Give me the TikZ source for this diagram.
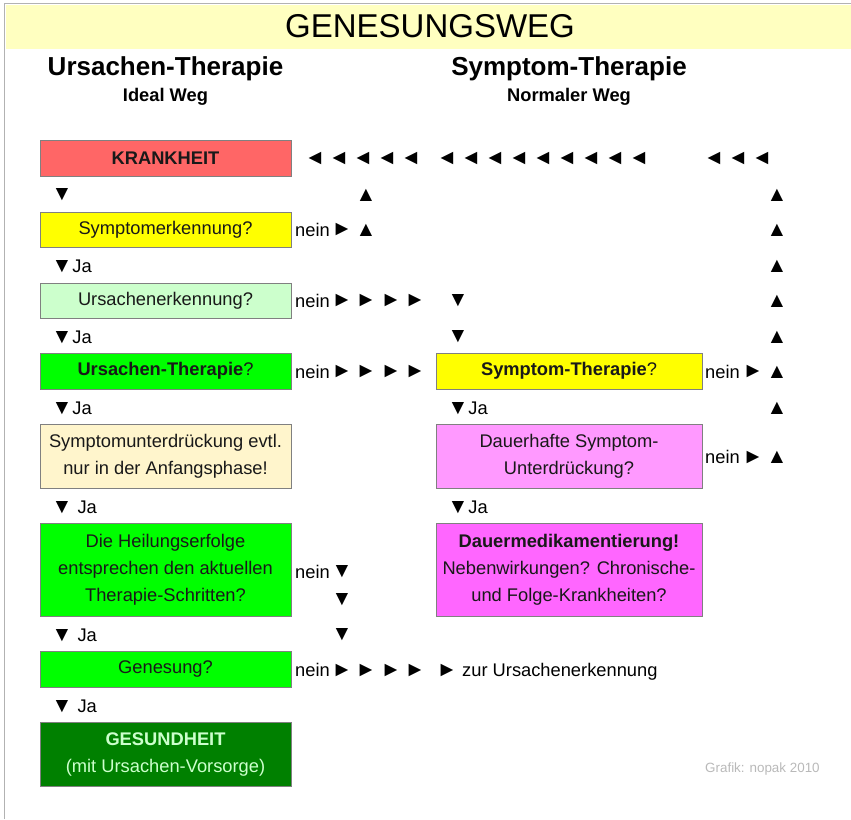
\documentclass[tikz,border=0pt]{standalone}
\usepackage{fontspec}
\setmainfont{Liberation Sans}

\definecolor{titleyellow}{HTML}{FFFFC0}
\definecolor{krankred}{HTML}{FF6666}
\definecolor{signyellow}{HTML}{FFFF00}
\definecolor{palegreen}{HTML}{CCFFCC}
\definecolor{brightgreen}{HTML}{00FF00}
\definecolor{cream}{HTML}{FFF5CC}
\definecolor{lightmagenta}{HTML}{FF99FF}
\definecolor{magenta}{HTML}{FF66FF}
\definecolor{darkgreen}{HTML}{008000}

\newcommand{\trisize}{\fontsize{21}{21}\selectfont}
\newcommand{\arrDn}{▼}
\newcommand{\arrUp}{▲}
\newcommand{\arrRt}{►}
\newcommand{\arrLt}{◄}

\begin{document}
\begin{tikzpicture}[x=1pt,y=-1pt,
  box/.style={draw=gray,line width=1pt,inner sep=0pt,minimum width=251,
      minimum height=35,align=center,text=black!90,
      font=\fontsize{18.3}{27}\selectfont},
  wbox/.style={box,minimum width=266},
  lbl/.style={inner sep=0pt,anchor=west,text height=13,text depth=0,
      font=\fontsize{18.3}{22}\selectfont},
  tri/.style={inner sep=0pt,font=\trisize}]

  \useasboundingbox (0,0) rectangle (851,819);

  % frame and title band
  \fill[titleyellow] (5.5,4.5) rectangle (851,49);
  \draw[gray!60,line width=1.5] (4.5,819) -- (4.5,3.5) -- (851,3.5);
  \node[font=\fontsize{33}{36}\selectfont] (title) at (430,26) {GENESUNGSWEG};

  % column heads
  \node[font=\bfseries\fontsize{26}{30}\selectfont] (ursHead) at (165.5,69) {Ursachen-Therapie};
  \node[font=\bfseries\fontsize{18.3}{22}\selectfont] (ursSub) at (165.5,97) {Ideal Weg};
  \node[font=\bfseries\fontsize{26}{30}\selectfont] (symHead) at (569,69) {Symptom-Therapie};
  \node[font=\bfseries\fontsize{18.3}{22}\selectfont] (symSub) at (569,97) {Normaler Weg};

  % left column
  \node[box,fill=krankred,minimum height=36] (krank) at (165.5,158) {\bfseries KRANKHEIT};
  \node[box,fill=signyellow] (symErk) at (165.5,229.5) {Symptomerkennung?};
  \node[box,fill=palegreen] (ursErk) at (165.5,300.5) {Ursachenerkennung?};
  \node[box,fill=brightgreen,minimum height=36] (ursTher) at (165.5,371) {\textbf{Ursachen-Therapie}?};
  \node[box,fill=cream,minimum height=64] (symUnt) at (165.5,456)
      {Symptomunterdrückung evtl.\\nur in der Anfangsphase!};
  \node[box,fill=brightgreen,minimum height=93] (heil) at (165.5,569.5)
      {Die Heilungserfolge\\entsprechen den aktuellen\\Therapie-Schritten?};
  \node[box,fill=brightgreen,minimum height=36] (genes) at (165.5,669) {Genesung?};
  \node[box,fill=darkgreen,minimum height=64,text=palegreen] (gesund) at (165.5,754)
      {\textbf{GESUNDHEIT}\\(mit Ursachen-Vorsorge)};

  % right column
  \node[wbox,fill=signyellow,minimum height=36] (symTher) at (569,371) {\textbf{Symptom-Therapie}?};
  \node[wbox,fill=lightmagenta,minimum height=64] (dauerUnt) at (569,456)
      {Dauerhafte Symptom-\\Unterdrückung?};
  \node[wbox,fill=magenta,minimum height=93] (dauerMed) at (569,569.5)
      {\textbf{Dauermedikamentierung!}\\Nebenwirkungen? Chronische-\\und Folge-Krankheiten?};

  % way back to KRANKHEIT
  \foreach \x [count=\i] in {315,339,363,387,411,447,471,495,519,543,567,591,615,639,714,738,762}
    \node[tri] (back\i) at (\x,159) {\arrLt};
  \foreach \y [count=\i] in {195,230,266,301,337,372,408,457}
    \node[tri] (upR\i) at (777,\y) {\arrUp};
  \node[tri] (upM1) at (366,195) {\arrUp};
  \node[tri] (upM2) at (366,230) {\arrUp};

  % left "Ja" steps
  \node[tri] (dnL0) at (62,195) {\arrDn};
  \foreach \y [count=\i] in {266,337,408}
    \node[lbl] (jaL\i) at (51.5,\y) {{\trisize\arrDn}Ja};
  \foreach \y [count=\i from 4] in {507,635,706}
    \node[lbl] (jaL\i) at (51.5,\y) {{\trisize\arrDn} Ja};
  % right "Ja" steps
  \foreach \y [count=\i] in {408,507}
    \node[lbl] (jaR\i) at (447.5,\y) {{\trisize\arrDn}Ja};

  % "nein" exits on the left
  \node[lbl] (neinA) at (295,230) {nein};
  \node[tri] (rtA) at (342,230) {\arrRt};
  \foreach \y/\n in {301/B,372/C,670/D} {
    \node[lbl] (nein\n) at (295,\y) {nein};
    \foreach \x [count=\i] in {342,366,391,415}
      \node[tri] (rt\n\i) at (\x,\y) {\arrRt};
  }
  \node[tri] (dnM1) at (458,301) {\arrDn};
  \node[tri] (dnM2) at (458,337) {\arrDn};
  \node[lbl] (neinE) at (295,572) {nein};
  \foreach \y [count=\i] in {572,600,635}
    \node[tri] (dnE\i) at (342,\y) {\arrDn};
  \node[tri] (rtD5) at (447,670) {\arrRt};
  \node[lbl] (zurUrs) at (462,670) {zur Ursachenerkennung};

  % "nein" exits on the right
  \foreach \y/\n in {372/F,457/G} {
    \node[lbl] (nein\n) at (705,\y) {nein};
    \node[tri] (rt\n) at (753,\y) {\arrRt};
  }

  \node[anchor=west,inner sep=0pt,text=gray!55,font=\fontsize{13.4}{16}\selectfont]
      (credit) at (705,769) {Grafik: nopak 2010};

\end{tikzpicture}
\end{document}
